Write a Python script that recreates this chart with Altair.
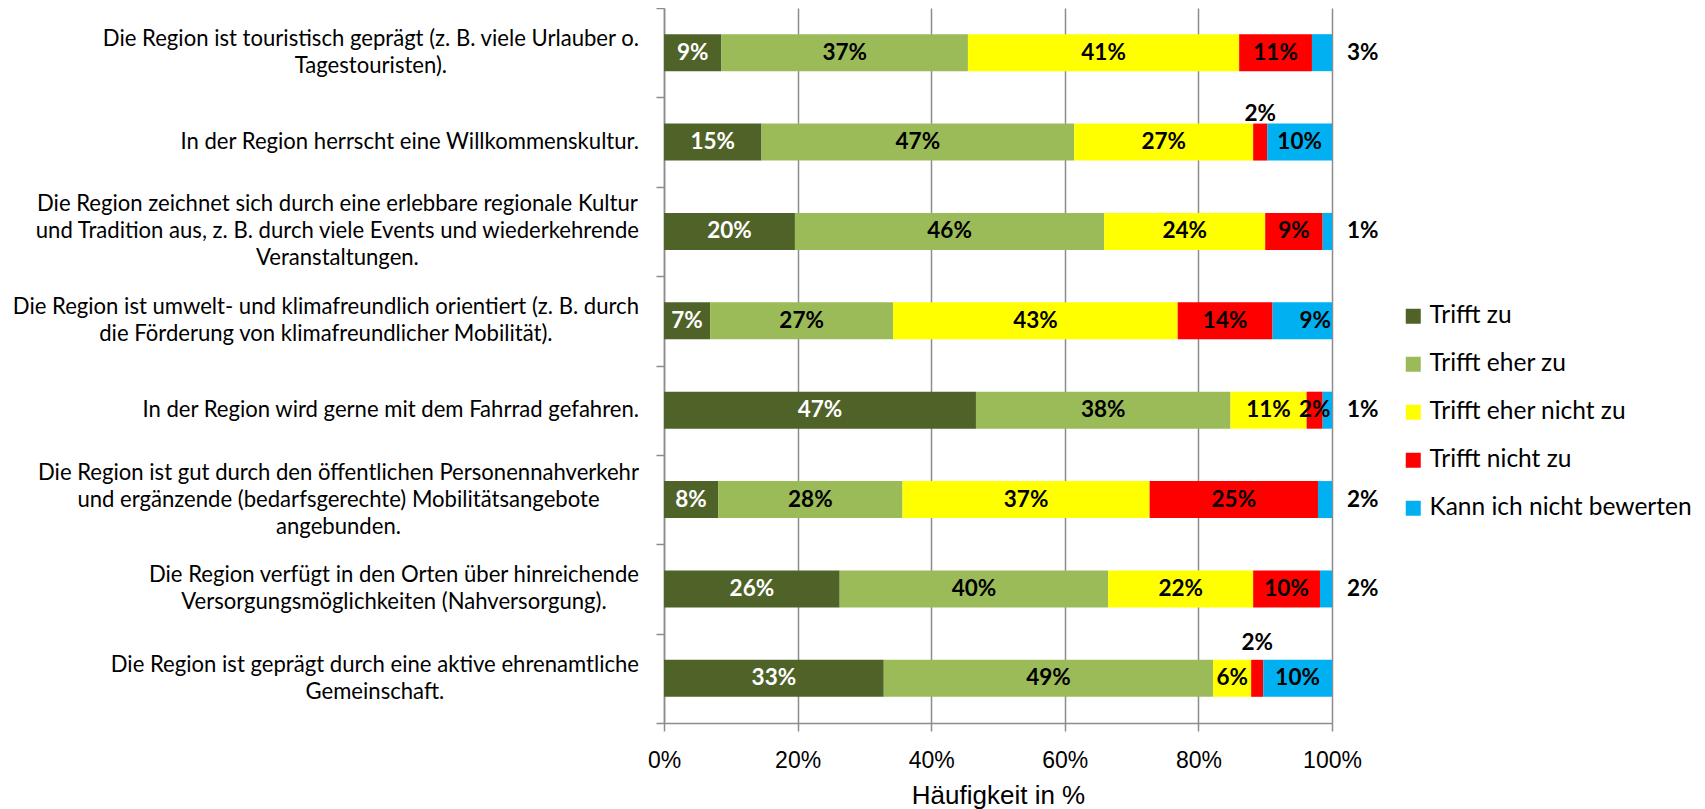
import glob
import altair as alt
import pandas as pd

# ---------------- data ----------------
categories = [
    "Die Region ist touristisch geprägt (z. B. viele Urlauber o.\nTagestouristen).",
    "In der Region herrscht eine Willkommenskultur.",
    "Die Region zeichnet sich durch eine erlebbare regionale Kultur\nund Tradition aus, z. B. durch viele Events und wiederkehrende\nVeranstaltungen.",
    "Die Region ist umwelt- und klimafreundlich orientiert (z. B. durch\ndie Förderung von klimafreundlicher Mobilität).",
    "In der Region wird gerne mit dem Fahrrad gefahren.",
    "Die Region ist gut durch den öffentlichen Personennahverkehr\nund ergänzende (bedarfsgerechte) Mobilitätsangebote\nangebunden.",
    "Die Region verfügt in den Orten über hinreichende\nVersorgungsmöglichkeiten (Nahversorgung).",
    "Die Region ist geprägt durch eine aktive ehrenamtliche\nGemeinschaft.",
]
series = ["Trifft zu", "Trifft eher zu", "Trifft eher nicht zu", "Trifft nicht zu", "Kann ich nicht bewerten"]
colors = ["#4F6228", "#9BBB59", "#FFFF00", "#FF0000", "#00B0F0"]

trifft_zu = [8.6, 14.6, 19.6, 6.9, 46.7, 8.1, 26.3, 32.9]
trifft_eher_zu = [36.9, 46.8, 46.3, 27.4, 38.1, 27.6, 40.2, 49.3]
trifft_eher_nicht_zu = [40.6, 26.8, 24.1, 42.6, 11.4, 37.0, 21.7, 5.7]
trifft_nicht_zu = [10.9, 2.1, 8.6, 14.2, 2.4, 25.2, 10.0, 1.8]
kann_nicht_bewerten = [3.0, 9.7, 1.4, 8.9, 1.4, 2.1, 1.8, 10.3]

# where a value label sits when it is not centred in its segment
label_placement = {
    (0, "Kann ich nicht bewerten"): "outside",
    (1, "Trifft nicht zu"): "above",
    (2, "Kann ich nicht bewerten"): "outside",
    (3, "Kann ich nicht bewerten"): "end",
    (4, "Kann ich nicht bewerten"): "outside",
    (5, "Kann ich nicht bewerten"): "outside",
    (6, "Kann ich nicht bewerten"): "outside",
    (7, "Trifft nicht zu"): "above_hi",
}

# ---------------- styling ----------------
GRAY = "#8C8C8C"
CAT_FONT = "Lato"
CAT_SIZE = 22.1
CAT_LINE = 27
BAR_FONT = "Lato"
BAR_SIZE = 22.5
W, H = 668, 715
LEFT = 656
LABEL_GAP = 25

# text width measurement (for centring multi-line category labels)
_calibri = {
    " ": .226, "a": .479, "b": .525, "c": .423, "d": .525, "e": .498, "f": .305, "g": .471, "h": .525,
    "i": .229, "j": .239, "k": .455, "l": .229, "m": .799, "n": .525, "o": .527, "p": .525, "q": .525,
    "r": .349, "s": .391, "t": .335, "u": .525, "v": .452, "w": .715, "x": .433, "y": .453, "z": .395,
    "A": .579, "B": .544, "C": .533, "D": .615, "E": .488, "F": .459, "G": .631, "H": .623, "I": .252,
    "K": .520, "M": .855, "N": .646, "O": .662, "P": .517, "R": .543, "S": .459, "T": .487, "V": .567,
    "W": .890, ".": .252, ",": .250, "(": .303, ")": .303, "-": .306, "ü": .525, "ö": .527, "ä": .479,
    "Ö": .662,
}
_font = None
try:
    from PIL import ImageFont
    paths = []
    for d in ["/usr/share/fonts", "/usr/local/share/fonts", "/root/.fonts", "/usr/share/fonts/truetype"]:
        paths += glob.glob(d + "/**/Lato-Regular.ttf", recursive=True)
    if paths:
        _font = ImageFont.truetype(paths[0], CAT_SIZE)
except Exception:
    _font = None


def text_width(s):
    if _font is not None:
        try:
            return float(_font.getlength(s))
        except Exception:
            pass
    return sum(_calibri.get(c, .5) for c in s) * CAT_SIZE * 1.06


# ---------------- tables ----------------
all_values = [trifft_zu, trifft_eher_zu, trifft_eher_nicht_zu, trifft_nicht_zu, kann_nicht_bewerten]
rows = []
for s_idx, (s, vals) in enumerate(zip(series, all_values)):
    for c_idx, (c, v) in enumerate(zip(categories, vals)):
        rows.append(dict(cat=c, c_idx=c_idx, series=s, s_idx=s_idx, value=v,
                         label=f"{int(round(v))}%",
                         place=label_placement.get((c_idx, s), "center")))
df = pd.DataFrame(rows)

cat_rows = []
for c in categories:
    lines = c.split("\n")
    maxw = max(text_width(l) for l in lines)
    cat_rows.append(dict(cat=c, lines=lines, n_lines=len(lines),
                         cx=-LABEL_GAP - maxw / 2.0))
df_cat = pd.DataFrame(cat_rows)

# ---------------- chart ----------------
xscale = alt.Scale(domain=[0, 100], nice=False)
yscale = alt.Scale(domain=categories, paddingInner=0, paddingOuter=0)
x_axis = alt.Axis(values=[0, 20, 40, 60, 80, 100], labelExpr="datum.value + '%'",
                  title="Häufigkeit in %", grid=True, labelFlush=False)
y_axis = alt.Axis(labels=False, title=None, tickBand="extent", grid=False)

Y = alt.Y("cat:N", sort=categories, scale=yscale, axis=y_axis)

bars = alt.Chart(df).mark_bar(size=37).encode(
    x=alt.X("value:Q", stack="zero", scale=xscale, axis=x_axis),
    y=Y,
    color=alt.Color("series:N", sort=series, scale=alt.Scale(domain=series, range=colors),
                    legend=alt.Legend(title=None, orient="none", legendX=737, legendY=296,
                                      symbolType="square", symbolSize=225, symbolStrokeWidth=0,
                                      labelFont=CAT_FONT, labelFontSize=24.5, labelColor="black",
                                      labelLimit=0, rowPadding=23, labelOffset=4, padding=0)),
    order=alt.Order("s_idx:Q", sort="ascending"),
)

lbl = alt.Chart(df).transform_stack(
    stack="value", groupby=["cat"], as_=["x0", "x1"],
    sort=[alt.SortField("s_idx", order="ascending")],
).transform_calculate(mid="(datum.x0 + datum.x1) / 2", edge="100")

txt_color = alt.condition(alt.datum.series == "Trifft zu", alt.value("white"), alt.value("black"))
Xmid = alt.X("mid:Q", scale=xscale, axis=x_axis)
Xedge = alt.X("edge:Q", scale=xscale, axis=x_axis)

center = lbl.transform_filter(alt.datum.place == "center").mark_text(
    font=BAR_FONT, fontSize=BAR_SIZE, fontWeight="bold", baseline="middle", align="center"
).encode(x=Xmid, y=Y, text="label:N", color=txt_color)

above = lbl.transform_filter(alt.datum.place == "above").mark_text(
    font=BAR_FONT, fontSize=BAR_SIZE, fontWeight="bold", baseline="middle", align="center",
    dy=-28, color="black"
).encode(x=Xmid, y=Y, text="label:N")

above_hi = lbl.transform_filter(alt.datum.place == "above_hi").mark_text(
    font=BAR_FONT, fontSize=BAR_SIZE, fontWeight="bold", baseline="middle", align="center",
    dy=-35, color="black"
).encode(x=Xmid, y=Y, text="label:N")

outside = lbl.transform_filter(alt.datum.place == "outside").mark_text(
    font=BAR_FONT, fontSize=BAR_SIZE, fontWeight="bold", baseline="middle", align="left",
    dx=15, color="black"
).encode(x=Xedge, y=Y, text="label:N")

end = lbl.transform_filter(alt.datum.place == "end").mark_text(
    font=BAR_FONT, fontSize=BAR_SIZE, fontWeight="bold", baseline="middle", align="right",
    dx=-1, color="black"
).encode(x=Xedge, y=Y, text="label:N")

cat_base = alt.Chart(df_cat)
cat_single = cat_base.transform_filter(alt.datum.n_lines == 1).mark_text(
    font=CAT_FONT, fontSize=CAT_SIZE, baseline="middle", align="right", color="black",
    lineHeight=CAT_LINE
).encode(x=alt.value(-LABEL_GAP), y=Y, text="lines")

cat_two = cat_base.transform_filter(alt.datum.n_lines == 2).mark_text(
    font=CAT_FONT, fontSize=CAT_SIZE, baseline="middle", align="center", color="black",
    lineHeight=CAT_LINE, dy=-CAT_LINE / 2
).encode(x=alt.X("cx:Q", scale=None), y=Y, text="lines")

cat_three = cat_base.transform_filter(alt.datum.n_lines == 3).mark_text(
    font=CAT_FONT, fontSize=CAT_SIZE, baseline="middle", align="center", color="black",
    lineHeight=CAT_LINE, dy=-CAT_LINE
).encode(x=alt.X("cx:Q", scale=None), y=Y, text="lines")

chart = alt.layer(bars, center, above, above_hi, outside, end,
                  cat_single, cat_two, cat_three).properties(
    width=W, height=H,
    autosize=alt.AutoSizeParams(type="none"),
    padding={"left": LEFT, "top": 0, "right": 365, "bottom": 89},
).configure_axis(
    domainColor=GRAY, domainWidth=1.5, tickColor=GRAY, tickWidth=1.5, tickSize=8,
    gridColor=GRAY, gridWidth=1.5, labelColor="black", titleColor="black",
).configure_axisX(
    labelFont="Liberation Sans", labelFontSize=23, labelPadding=18,
    titleFont="Liberation Sans", titleFontSize=26, titleFontWeight="normal", titlePadding=10,
).configure_view(stroke=None)

chart.save("out.html", embed_options={"renderer": "svg", "actions": False})
